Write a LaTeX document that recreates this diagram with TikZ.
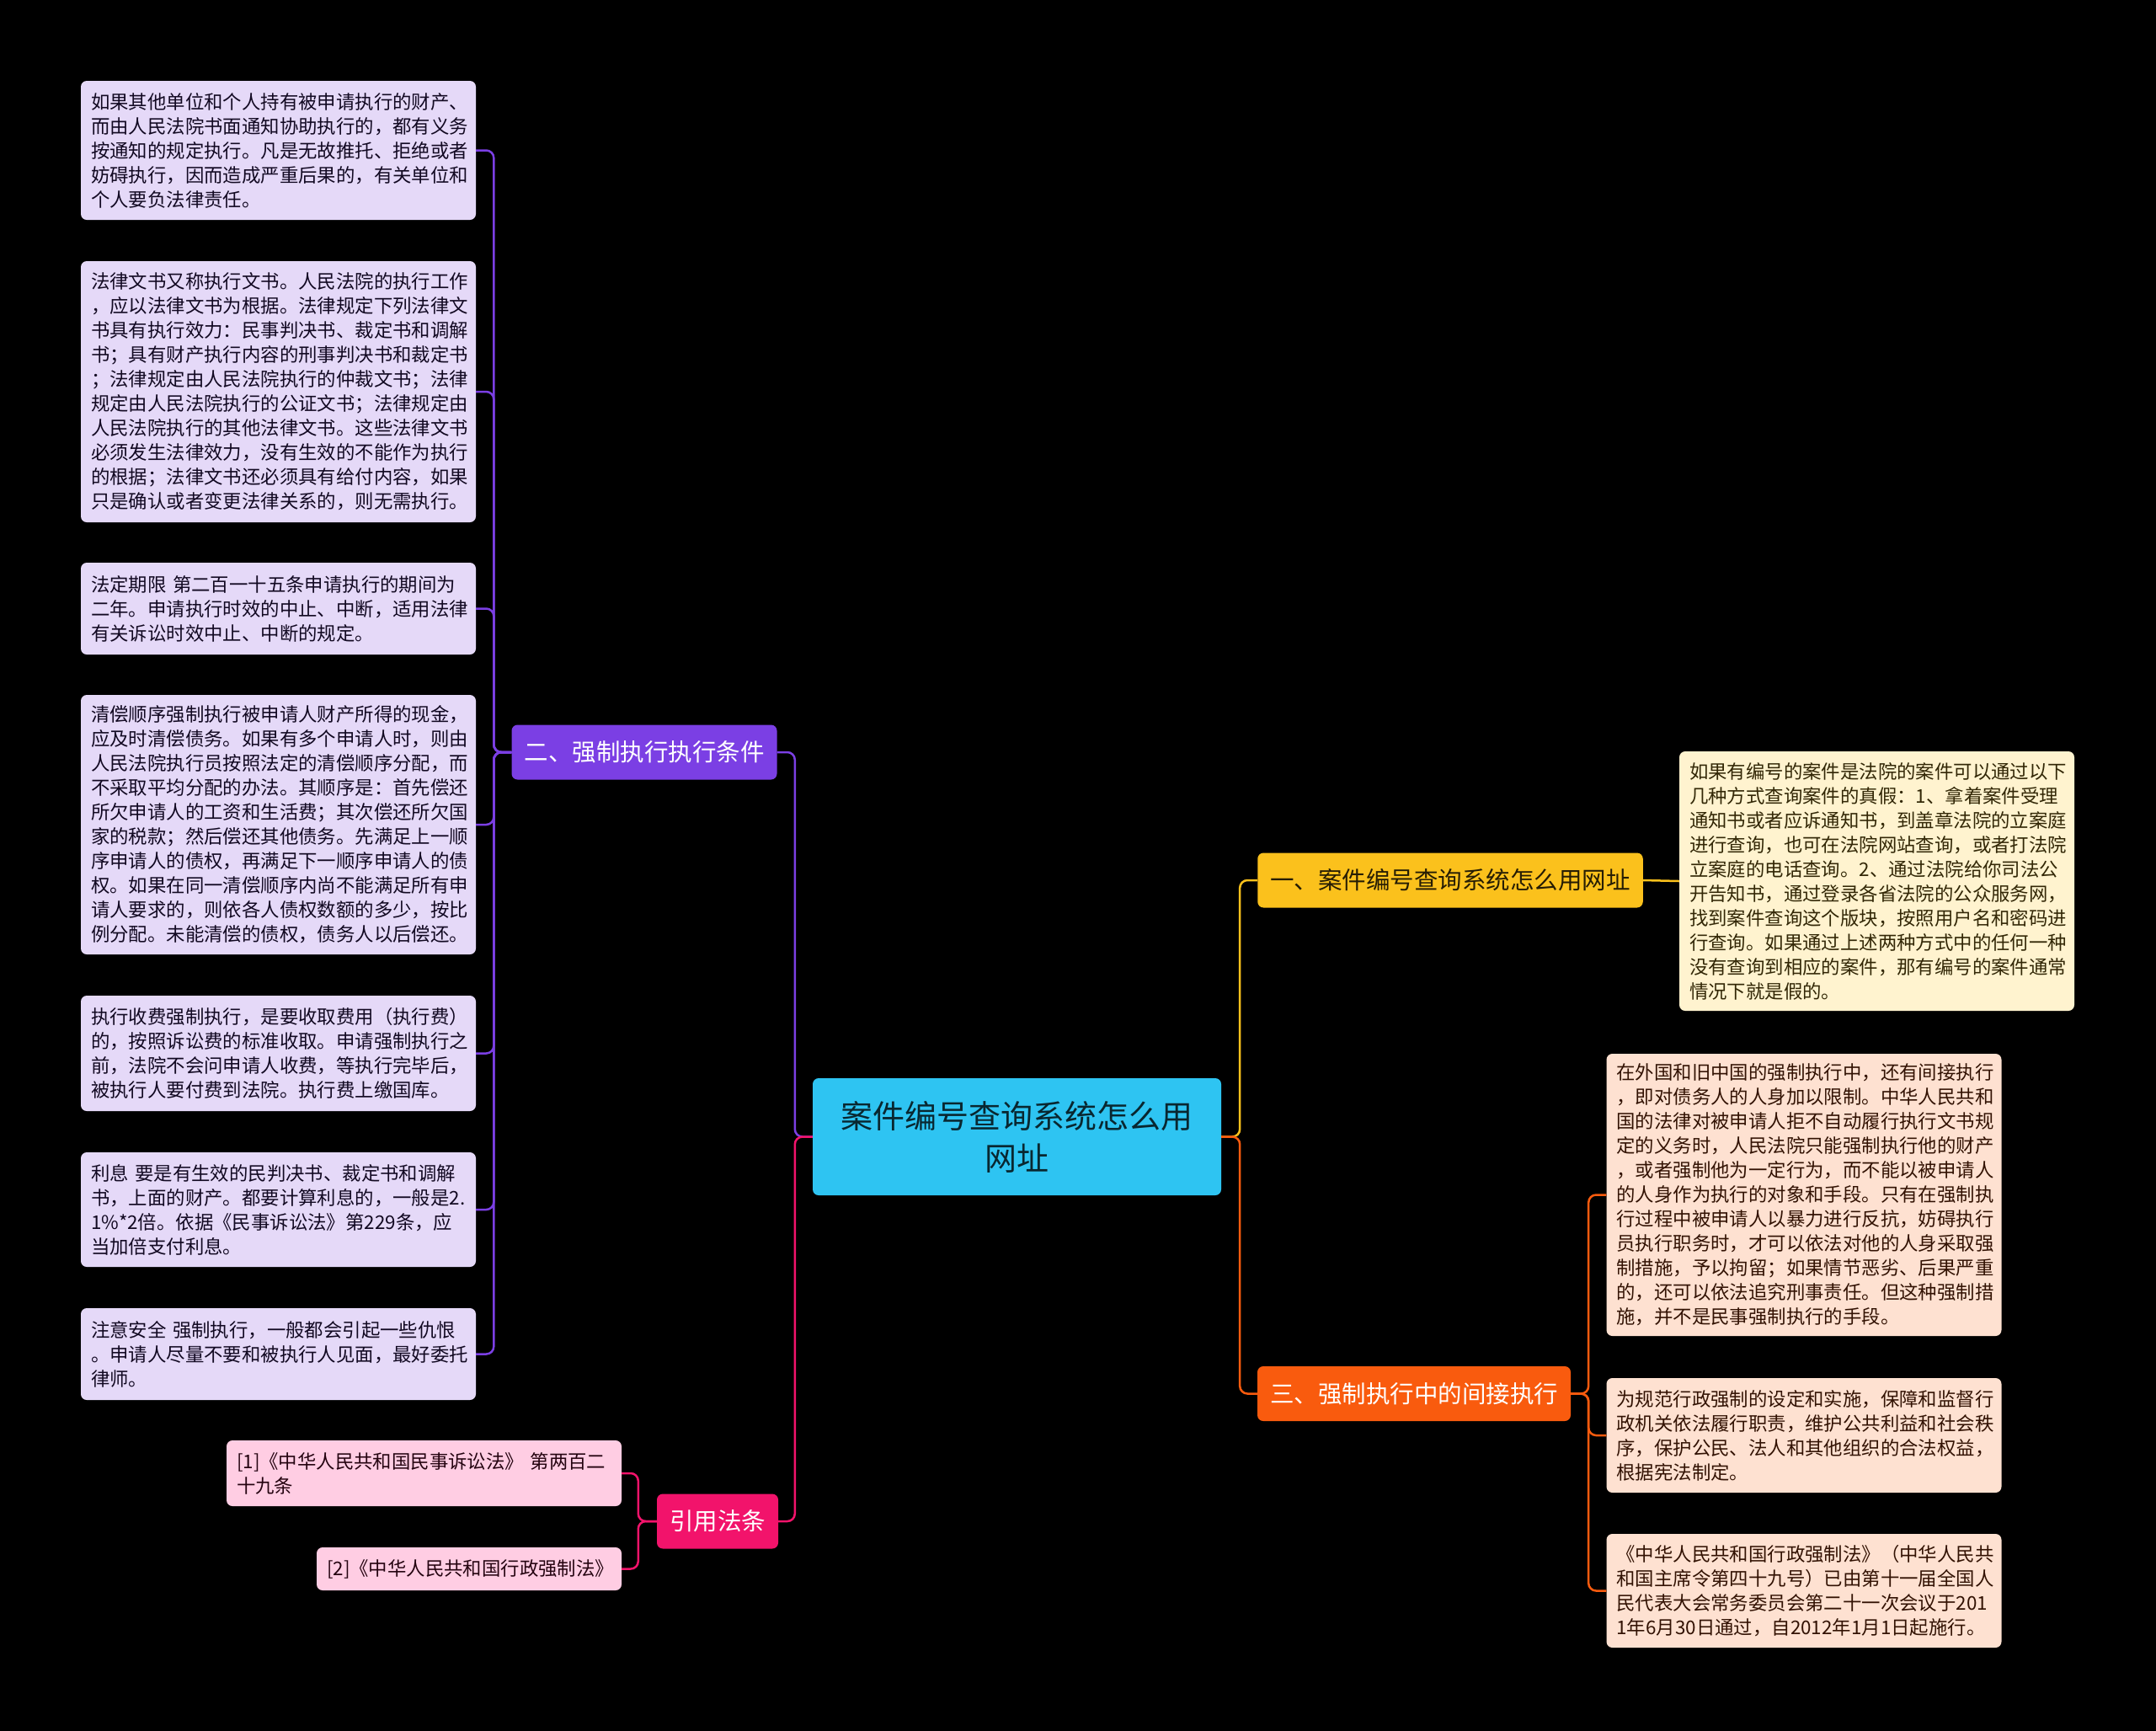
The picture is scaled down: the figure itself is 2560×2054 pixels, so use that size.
\documentclass[tikz,border=0pt]{standalone}
\usepackage{fontspec}
\setmainfont{Noto Sans CJK SC}
\begin{document}
\begin{tikzpicture}[x=1pt, y=-1pt,
  box/.style={rounded corners=7pt, inner sep=0pt},
  leaf/.style={box, inner xsep=12pt, text width=445pt, align=left,
    font=\fontsize{22.4pt}{29pt}\selectfont},
  branch/.style={box, inner xsep=15pt, minimum height=65pt,
    font=\fontsize{28.5pt}{34pt}\selectfont},
  link/.style={line width=2.5pt, rounded corners=9pt}]
  \definecolor{cpcyan}{HTML}{2EC4F2}
  \definecolor{cppurple}{HTML}{7B3FE4}
  \definecolor{cplav}{HTML}{E5D9F8}
  \definecolor{cpyellow}{HTML}{FBC11C}
  \definecolor{cpcream}{HTML}{FFF3CF}
  \definecolor{cporange}{HTML}{F95B0E}
  \definecolor{cppeach}{HTML}{FEE1D1}
  \definecolor{cppink}{HTML}{F2136B}
  \definecolor{cprose}{HTML}{FFCDE3}

  % ---- black page, fixed to the reference size ----------------------------
  \useasboundingbox (0,0) rectangle (2560,2054);
  \fill[black] (-6,-6) rectangle (2566,2060);

  % ---- root ------------------------------------------------------------------
  \node[box, fill=cpcyan, text=black!80!cpcyan, minimum width=485pt,
    minimum height=139pt, align=center,
    font=\fontsize{38pt}{50pt}\selectfont] (ctr) at (1207.5,1349.5)
    {案件编号查询系统怎么用\\网址};

  % ---- left: 二、强制执行执行条件, seven leaves --------------------------
  \node[branch, fill=cppurple, text=white] (cond) at (765,893) {二、强制执行执行条件};
  \draw[link, cppurple] (ctr.west) -- ++(-21,0) |- (cond.east);
  % #1 name, #2 y centre, #3 height, #4 text
  \foreach \nm/\yy/\hh/\txt in {%
    c1/178.5/165/{如果其他单位和个人持有被申请执行的财产、\\而由人民法院书面通知协助执行的，都有义务\\按通知的规定执行。凡是无故推托、拒绝或者\\妨碍执行，因而造成严重后果的，有关单位和\\个人要负法律责任。},
    c2/465/310/{法律文书又称执行文书。人民法院的执行工作\\，应以法律文书为根据。法律规定下列法律文\\书具有执行效力：民事判决书、裁定书和调解\\书；具有财产执行内容的刑事判决书和裁定书\\；法律规定由人民法院执行的仲裁文书；法律\\规定由人民法院执行的公证文书；法律规定由\\人民法院执行的其他法律文书。这些法律文书\\必须发生法律效力，没有生效的不能作为执行\\的根据；法律文书还必须具有给付内容，如果\\只是确认或者变更法律关系的，则无需执行。},
    c3/722.5/109/{法定期限~第二百一十五条申请执行的期间为\\二年。申请执行时效的中止、中断，适用法律\\有关诉讼时效中止、中断的规定。},
    c4/979/308/{清偿顺序强制执行被申请人财产所得的现金，\\应及时清偿债务。如果有多个申请人时，则由\\人民法院执行员按照法定的清偿顺序分配，而\\不采取平均分配的办法。其顺序是：首先偿还\\所欠申请人的工资和生活费；其次偿还所欠国\\家的税款；然后偿还其他债务。先满足上一顺\\序申请人的债权，再满足下一顺序申请人的债\\权。如果在同一清偿顺序内尚不能满足所有申\\请人要求的，则依各人债权数额的多少，按比\\例分配。未能清偿的债权，债务人以后偿还。},
    c5/1250.5/137/{执行收费强制执行，是要收取费用（执行费）\\的，按照诉讼费的标准收取。申请强制执行之\\前，法院不会问申请人收费，等执行完毕后，\\被执行人要付费到法院。执行费上缴国库。},
    c6/1436/136/{利息~要是有生效的民判决书、裁定书和调解\\书，上面的财产。都要计算利息的，一般是2.\\1\%*2倍。依据《民事诉讼法》第229条，应\\当加倍支付利息。},
    c7/1607.5/109/{注意安全~强制执行，一般都会引起一些仇恨\\。申请人尽量不要和被执行人见面，最好委托\\律师。}%
  }{
    \node[leaf, fill=cplav, text=black!85!cppurple, minimum height=\hh]
      (\nm) at (330.5,\yy) {\txt};
    \draw[link, cppurple] (cond.west) -- ++(-21,0) |- (\nm.east);
  }

  % ---- left: 引用法条, two citations --------------------------------------
  \node[branch, fill=cppink, text=white] (cite) at (852,1806) {引用法条};
  \draw[link, cppink] (ctr.west) -- ++(-21,0) |- (cite.east);
  \node[leaf, fill=cprose, text=black!85!cppink, minimum height=78] (p1) at (503.5,1749)
    {[1]《中华人民共和国民事诉讼法》~第两百二\\十九条};
  \node[leaf, text width=338pt, fill=cprose, text=black!85!cppink, minimum height=51]
    (p2) at (557,1862.5) {[2]《中华人民共和国行政强制法》};
  \draw[link, cppink] (cite.west) -- ++(-22,0) |- (p1.east);
  \draw[link, cppink] (cite.west) -- ++(-22,0) |- (p2.east);

  % ---- right: 一、案件编号查询系统怎么用网址 ------------------------------
  \node[branch, fill=cpyellow, text=black!85!cpyellow] (query) at (1722,1045)
    {一、案件编号查询系统怎么用网址};
  \draw[link, cpyellow] (ctr.east) -- ++(22,0) |- (query.west);
  \node[leaf, fill=cpcream, text=black!80!cpyellow, minimum height=308] (q1) at (2228.5,1046)
    {如果有编号的案件是法院的案件可以通过以下\\几种方式查询案件的真假：1、拿着案件受理\\通知书或者应诉通知书，到盖章法院的立案庭\\进行查询，也可在法院网站查询，或者打法院\\立案庭的电话查询。2、通过法院给你司法公\\开告知书，通过登录各省法院的公众服务网，\\找到案件查询这个版块，按照用户名和密码进\\行查询。如果通过上述两种方式中的任何一种\\没有查询到相应的案件，那有编号的案件通常\\情况下就是假的。};
  \draw[link, cpyellow] (query.east) -- (q1.west);

  % ---- right: 三、强制执行中的间接执行, three leaves ----------------------
  \node[branch, fill=cporange, text=white] (indir) at (1679,1654.5) {三、强制执行中的间接执行};
  \draw[link, cporange] (ctr.east) -- ++(22,0) |- (indir.west);
  \foreach \nm/\yy/\hh/\txt in {%
    d1/1418.5/335/{在外国和旧中国的强制执行中，还有间接执行\\，即对债务人的人身加以限制。中华人民共和\\国的法律对被申请人拒不自动履行执行文书规\\定的义务时，人民法院只能强制执行他的财产\\，或者强制他为一定行为，而不能以被申请人\\的人身作为执行的对象和手段。只有在强制执\\行过程中被申请人以暴力进行反抗，妨碍执行\\员执行职务时，才可以依法对他的人身采取强\\制措施，予以拘留；如果情节恶劣、后果严重\\的，还可以依法追究刑事责任。但这种强制措\\施，并不是民事强制执行的手段。},
    d2/1704/136/{为规范行政强制的设定和实施，保障和监督行\\政机关依法履行职责，维护公共利益和社会秩\\序，保护公民、法人和其他组织的合法权益，\\根据宪法制定。},
    d3/1888.5/135/{《中华人民共和国行政强制法》（中华人民共\\和国主席令第四十九号）已由第十一届全国人\\民代表大会常务委员会第二十一次会议于201\\1年6月30日通过，自2012年1月1日起施行。}%
  }{
    \node[leaf, fill=cppeach, text=black!80!cporange, minimum height=\hh]
      (\nm) at (2142,\yy) {\txt};
    \draw[link, cporange] (indir.east) -- ++(21,0) |- (\nm.west);
  }
\end{tikzpicture}
\end{document}
